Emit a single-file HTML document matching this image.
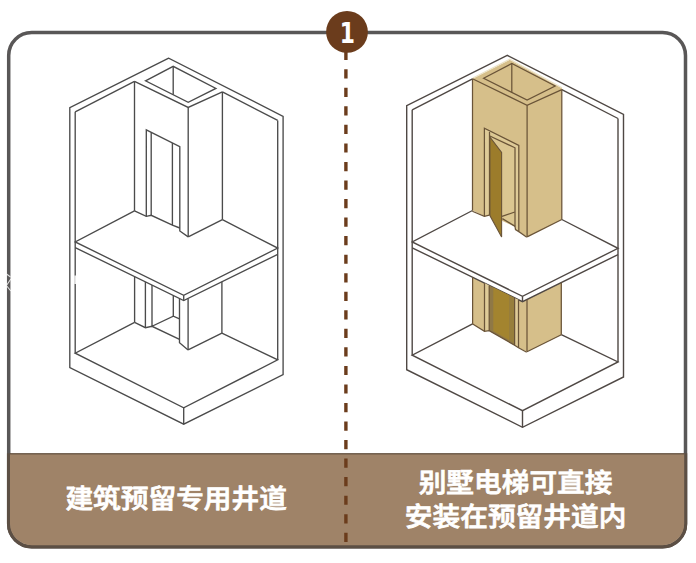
<!DOCTYPE html>
<html lang="zh"><head><meta charset="utf-8"><title>1</title>
<style>
html,body{margin:0;padding:0;background:#fff;}
body{width:696px;height:563px;overflow:hidden;position:relative;font-family:"Liberation Sans","Noto Sans CJK SC",sans-serif;}
svg{position:absolute;left:0;top:0;display:block;}
.cap{position:absolute;color:#fff;font-weight:500;-webkit-text-stroke:0.8px #fff;font-size:27.7px;line-height:33.1px;height:33.1px;width:300px;text-align:center;white-space:nowrap;transform:scaleY(0.945);transform-origin:center;}
#c1{left:26.2px;top:483.1px;}
#c2{left:365.6px;top:467.2px;}
#c3{left:365.6px;top:501.0px;}
</style></head><body>
<svg width="696" height="563" viewBox="0 0 696 563">
<rect width="696" height="563" fill="#fff"/>
<defs><clipPath id="fr"><rect x="10" y="34" width="674.2" height="511.2" rx="21.7" ry="21.7"/></clipPath><clipPath id="lo"><rect x="0" y="453.3" width="696" height="110"/></clipPath></defs>
<rect x="8.7" y="32.5" width="676.8" height="514.2" rx="23" ry="23" fill="none" stroke="#595757" stroke-width="3.5"/>
<rect x="8.7" y="32.5" width="676.8" height="514.2" rx="23" ry="23" fill="none" stroke="#5c4f44" stroke-width="3.5" clip-path="url(#lo)"/>
<g clip-path="url(#fr)"><rect x="0" y="453.5" width="696" height="110" fill="#9f8368"/><rect x="0" y="453.2" width="696" height="1.2" fill="#5f4e3d"/></g>
<line x1="345.9" y1="50.7" x2="345.9" y2="546" stroke="#6b3c1c" stroke-width="3.4" stroke-dasharray="9.2 9.34"/>
<circle cx="347" cy="31.9" r="20.9" fill="#6b3c1c"/>
<text x="347" y="42.6" transform="translate(347.3 0) scale(0.78 1) translate(-347 0)" text-anchor="middle" font-family="'DejaVu Sans', 'Liberation Sans', sans-serif" font-weight="bold" font-size="28" fill="#fff">1</text>
<g fill="none" stroke="#4b4b4b" stroke-width="1.35" stroke-linejoin="miter">
<polygon points="168.7,58.2 69.8,107.7 69.8,367.5 183.7,424.2 283.1,374.7 283.1,116.4" />
<polyline points="75.2,111.8 75.2,353.2" />
<polyline points="75.2,111.8 134.5,81.3" />
<polyline points="277.7,120.4 277.7,359.8" />
<polyline points="222.4,91.9 277.7,120.4" />
<polyline points="134.5,210.9 75.2,241.9 183.7,295.3 277.7,248.1 222.4,219.7" />
<polyline points="75.2,247.6 183.7,300.6 277.7,254.4" />
<polyline points="183.7,295.3 183.7,300.6" />
<polyline points="134.6,322.4 75.2,353.2 183.7,407.8 277.7,359.8 221.9,333.1" />
<polyline points="183.7,407.8 183.7,424.2" />
<polyline points="134.5,81.3 188.2,107.4 222.4,91.9" />
<polyline points="134.5,81.3 134.5,210.9" />
<polyline points="188.2,107.4 188.2,236.9" />
<polyline points="222.4,91.9 222.4,219.7" />
<polygon points="145.5,80.8 173.2,66.3 215.9,88.4 188.2,102.3" />
<polyline points="173.2,66.3 173.2,94.7" />
<polyline points="134.6,276.6 134.6,322.4" />
<polyline points="188.1,298.4 188.1,349.9" />
<polyline points="221.9,281.8 221.9,333.1" />
<polyline points="188.1,349.9 221.9,333.1" />
<polyline points="188.2,236.9 222.4,219.7" />
<polyline points="134.5,210.9 146.3,216.4 151.2,215.3 172.4,225.1 179.8,228.0" />
<polyline points="146.3,216.4 146.3,129.9 179.8,146.7 179.8,231.0 188.2,236.9" />
<polyline points="151.2,132.4 151.2,215.3" />
<polyline points="172.4,143.0 172.4,225.1" />
<polyline points="134.6,322.4 145.4,327.7 152.0,326.3 179.5,339.3" />
<polyline points="145.4,281.9 145.4,327.7" />
<polyline points="152.0,285.1 152.0,326.3 173.3,316.2 179.5,318.8" />
<polyline points="173.3,295.5 173.3,316.2" />
<polyline points="179.5,298.5 179.5,342.8 188.1,349.9" />
</g>
<g stroke="none">
<polygon points="472.5,78.8 509.8,59.8 562.0,88.3 561.8,89.6 561.8,219.5 527.1,236.9 518.5,231.0 518.5,227.9 511.0,225.0 489.4,215.0 484.5,216.1 472.5,210.5" fill="#d6bf8a"/>
<polygon points="472.6,277.3 522.5,301.7 561.3,282.6 561.3,334.7 527.0,351.8 518.5,347.8 514.6,345.2 489.2,330.7 484.5,331.3 472.6,323.9" fill="#d6bf8a"/>
</g>
<polyline points="472.9,78.0 509.8,59.2 562.0,87.7" fill="none" stroke="#ece3c8" stroke-width="1.1"/>
<g fill="none" stroke="#4f4844" stroke-width="1.4">
<polygon points="507.2,55.3 406.7,105.6 406.7,369.7 522.5,427.3 623.5,377.0 623.5,114.5" />
<polyline points="412.2,109.8 412.2,355.2" />
<polyline points="412.2,109.8 472.5,78.8" />
<polyline points="618.0,118.5 618.0,361.9" />
<polyline points="561.8,89.6 618.0,118.5" />
<polyline points="472.5,210.5 412.2,242.0 522.5,296.3 618.0,248.3 561.8,219.5" />
<polyline points="412.2,247.8 522.5,301.7 618.0,254.7" />
<polyline points="522.5,296.3 522.5,301.7" />
<polyline points="472.6,323.9 412.2,355.2 522.5,410.7 618.0,361.9 561.3,334.7" />
<polyline points="522.5,410.7 522.5,427.3" />
</g>
<g fill="none" stroke="#6a5438" stroke-width="1.25">
<polyline points="472.5,78.8 527.1,105.3 561.8,89.6" />
<polyline points="472.5,78.8 472.5,210.5" />
<polyline points="527.1,105.3 527.1,236.9" />
<polyline points="561.8,89.6 561.8,219.5" />
<polygon points="483.6,78.3 511.8,63.5 555.2,86.0 527.1,100.1" />
<polyline points="511.8,63.5 511.8,92.4" />
<polyline points="472.6,277.3 472.6,323.9" />
<polyline points="527.0,299.5 527.0,351.8" />
<polyline points="561.3,282.6 561.3,334.7" />
<polyline points="527.0,351.8 561.3,334.7" />
<polyline points="527.1,236.9 561.8,219.5" />
</g>
<g stroke="none">
<polygon points="484.4,128.3 518.8,145.4 518.8,231.6 515.4,229.6 515.2,226.4 501.8,218.2 489.4,215.2 484.4,216.4" fill="#dfcb98"/>
<polygon points="489.6,132.2 515.0,147.6 515.0,226.3 501.8,218.2 489.6,215.2" fill="#dbc691"/>
</g>
<g fill="none" stroke="#6a5438" stroke-width="1.25">
<polyline points="472.3,211.2 484.4,216.4 489.3,215.2" />
<polyline points="484.4,216.4 484.4,128.3 518.8,145.4 518.8,231.6 526.8,237.2" />
<polyline points="489.5,215.2 489.5,131.9" />
<polyline points="489.8,136.0 515.0,147.8 515.0,226.4 515.5,229.6 518.8,231.6" />
<polyline points="502.0,216.4 514.8,212.0" />
<polyline points="502.4,218.6 515.1,226.4" />
<polygon points="489.9,137.0 501.6,152.5 501.6,237.0 489.9,215.6" fill="#9c7c2b" stroke-width="1.1"/>
</g>
<g stroke="none">
<polygon points="484.5,283.1 489.2,285.4 489.2,330.7 484.5,331.3" fill="#dfcb98"/>
<polygon points="489.2,285.4 514.6,297.9 514.6,345.2 489.2,330.7" fill="#8f7846"/>
<polygon points="493.3,287.4 509.4,295.3 509.4,340.3 493.3,331.1" fill="#a3842f"/>
<polygon points="510.0,295.6 514.6,297.9 514.6,343.3 510.0,340.7" fill="#977e3c"/>
<polygon points="514.6,297.9 518.5,299.8 518.5,347.8 514.6,345.2" fill="#dfcb98"/>
</g>
<g fill="none" stroke="#6a5438" stroke-width="1.25">
<polyline points="472.3,323.8 484.5,331.3 489.2,330.7 514.6,345.2 518.5,347.8 526.7,352.2" />
<polyline points="484.5,283.1 484.5,331.3" />
<polyline points="489.2,285.4 489.2,330.7" />
<polyline points="514.6,297.9 514.6,345.2" />
<polyline points="518.5,299.8 518.5,347.8" />
</g>
<rect x="74.3" y="275.5" width="1.8" height="8.5" fill="#fff" opacity="0.85"/>
<path d="M6.5 274 L10.5 277 M10.8 279 L6.8 285 M6.8 286 L10.8 291" stroke="#fff" stroke-width="1.1" fill="none" opacity="0.8"/>
</svg>
<div class="cap" id="c1">建筑预留专用井道</div>
<div class="cap" id="c2">别墅电梯可直接</div>
<div class="cap" id="c3">安装在预留井道内</div>
</body></html>
